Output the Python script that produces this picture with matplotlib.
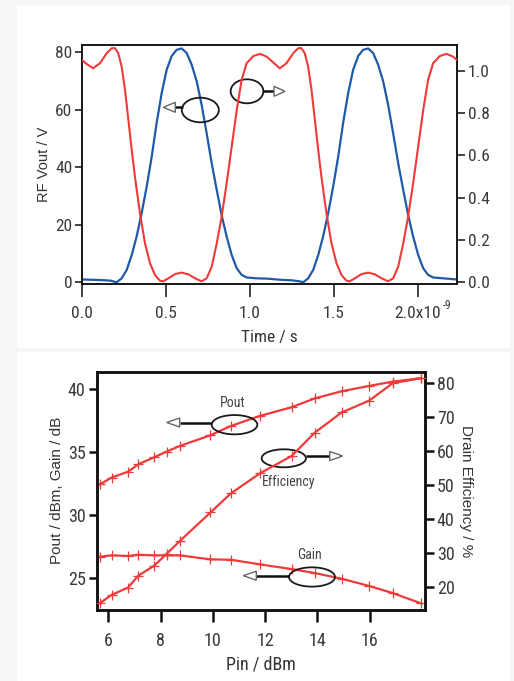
"""RF waveform and power sweep figure (two stacked panels)."""

import matplotlib
matplotlib.use("Agg")
import matplotlib.pyplot as plt
from matplotlib.patches import Ellipse, Polygon, Rectangle

RED = "#ef3a3a"
BLUE = "#1f5aa8"
NARROW = ["Roboto Condensed", "Liberation Sans", "DejaVu Sans"]
WIDE = ["Liberation Sans", "DejaVu Sans"]

# --- top panel: time-domain waveforms (time in ns) ---
vout_t = [0.000, 0.110, 0.170, 0.206, 0.236, 0.266, 0.296, 0.325, 0.355, 0.385, 0.415, 0.444,
          0.474, 0.504, 0.534, 0.563, 0.593, 0.623, 0.653, 0.683, 0.712, 0.742, 0.772, 0.802,
          0.831, 0.861, 0.891, 0.921, 0.950, 0.980, 1.040, 1.100, 1.180, 1.250, 1.300, 1.316,
          1.346, 1.376, 1.406, 1.435, 1.465, 1.495, 1.525, 1.554, 1.584, 1.614, 1.644, 1.673,
          1.703, 1.733, 1.763, 1.793, 1.822, 1.852, 1.882, 1.912, 1.941, 1.971, 2.001, 2.031,
          2.060, 2.090, 2.150, 2.232]
vout_v = [1.0, 0.8, 0.6, 0.0, 1.4, 4.3, 9.5, 15.9, 24.0, 33.3, 43.7, 55.3,
          65.7, 73.9, 78.7, 80.8, 81.3, 79.7, 75.6, 69.8, 61.7, 51.8, 41.4, 32.1,
          23.4, 15.9, 9.5, 4.9, 2.6, 1.7, 1.4, 1.3, 0.9, 0.7, 0.3, 0.0,
          1.4, 4.3, 9.5, 15.9, 24.0, 33.3, 43.7, 55.3, 65.7, 73.9, 78.7, 80.8,
          81.3, 79.7, 75.6, 69.8, 61.7, 51.8, 41.4, 32.1, 23.4, 15.9, 9.5, 4.9,
          2.6, 1.7, 1.4, 1.0]

curr_t = [0.000, 0.028, 0.067, 0.107, 0.147, 0.177, 0.196, 0.216, 0.236, 0.256, 0.276, 0.296,
          0.315, 0.345, 0.375, 0.405, 0.434, 0.464, 0.484, 0.514, 0.554, 0.593, 0.633, 0.673,
          0.712, 0.742, 0.772, 0.802, 0.831, 0.861, 0.891, 0.921, 0.950, 0.980, 1.020, 1.060,
          1.099, 1.139, 1.177, 1.217, 1.257, 1.287, 1.306, 1.326, 1.346, 1.366, 1.386, 1.406,
          1.425, 1.455, 1.485, 1.515, 1.544, 1.574, 1.594, 1.624, 1.664, 1.703, 1.743, 1.783,
          1.822, 1.852, 1.882, 1.912, 1.941, 1.971, 2.001, 2.031, 2.060, 2.090, 2.130, 2.170,
          2.209, 2.232]
curr_a = [1.050, 1.031, 1.011, 1.035, 1.082, 1.106, 1.106, 1.082, 1.019, 0.909, 0.767, 0.625,
          0.499, 0.326, 0.184, 0.090, 0.035, 0.008, 0.005, 0.019, 0.039, 0.046, 0.038, 0.019,
          0.005, 0.019, 0.074, 0.184, 0.310, 0.468, 0.641, 0.814, 0.956, 1.035, 1.069, 1.079,
          1.066, 1.038, 1.011, 1.035, 1.082, 1.106, 1.106, 1.082, 1.019, 0.909, 0.767, 0.625,
          0.499, 0.326, 0.184, 0.090, 0.035, 0.008, 0.005, 0.019, 0.039, 0.046, 0.038, 0.019,
          0.005, 0.019, 0.074, 0.184, 0.310, 0.468, 0.641, 0.814, 0.956, 1.035, 1.069, 1.079,
          1.066, 1.050]

time_ticks = [0.0, 0.5, 1.0, 1.5, 2.0]
time_labels = ["0.0", "0.5", "1.0", "1.5", "2.0x10"]
time_exponent = "-9"

# --- bottom panel: power sweep ---
pin_dbm = [5.68, 6.13, 6.76, 7.15, 7.75, 8.23, 8.74, 9.91, 10.69, 11.80,
           13.01, 13.90, 14.92, 15.98, 16.87, 17.96]
pout_dbm = [32.43, 32.97, 33.44, 34.03, 34.58, 35.04, 35.49, 36.34, 37.08, 37.88,
            38.57, 39.28, 39.84, 40.27, 40.61, 40.88]
gain_db = [26.67, 26.78, 26.73, 26.83, 26.78, 26.78, 26.78, 26.46, 26.43, 26.06,
           25.69, 25.37, 24.92, 24.34, 23.78, 22.96]
drain_eff = [15.3, 17.75, 19.9, 23.4, 26.3, 29.8, 33.6, 42.0, 47.6, 53.5,
             58.6, 65.5, 71.4, 74.9, 80.0, 81.5]


def _hollow_arrow(ax, start, tip, head_len_px, head_w_px):
    bbox = ax.get_window_extent()
    w, h = bbox.width, bbox.height
    direction = 1 if tip[0] > start[0] else -1
    base_x = tip[0] - direction * head_len_px / w
    ax.plot([start[0], base_x], [start[1], start[1]], color="#111111", lw=1.8,
            transform=ax.transAxes, solid_capstyle="butt", clip_on=False, zorder=5)
    half = head_w_px / 2 / h
    head = Polygon([[tip[0], tip[1]], [base_x, tip[1] + half], [base_x, tip[1] - half]],
                   closed=True, facecolor="white", edgecolor="#666666", lw=1.0,
                   transform=ax.transAxes, clip_on=False, zorder=6)
    ax.add_patch(head)


def _ring(ax, center, width, height):
    ax.add_patch(Ellipse(center, width, height, transform=ax.transAxes, fill=False,
                         edgecolor="#1a1a1a", lw=1.3, zorder=5, clip_on=False))


def _style_ticks(ax, spine_w, size):
    for spine in ax.spines.values():
        spine.set_linewidth(spine_w)
        spine.set_color("#111111")
    ax.tick_params(colors="#111111", labelcolor="#3a3a3a", labelsize=size, width=spine_w)
    for label in ax.get_xticklabels() + ax.get_yticklabels():
        label.set_family(NARROW)


fig = plt.figure(figsize=(5.14, 6.81), dpi=100, facecolor="#f6f6f6")
fig.patches.append(Rectangle((17 / 514, 1 - 348 / 681), 493 / 514, 343 / 681,
                             transform=fig.transFigure, facecolor="white", edgecolor="none",
                             zorder=-10))
fig.patches.append(Rectangle((17 / 514, 0), 493 / 514, 1 - 352 / 681,
                             transform=fig.transFigure, facecolor="white", edgecolor="none",
                             zorder=-10))

# top panel
ax1 = fig.add_axes([82 / 514, 1 - 283.5 / 681, 375 / 514, 238.5 / 681])
ax1.set_facecolor("none")
ax1b = ax1.twinx()
ax1.plot([t * 1e-9 for t in vout_t], vout_v, color=BLUE, lw=1.6, zorder=3)
ax1b.plot([t * 1e-9 for t in curr_t], curr_a, color=RED, lw=1.5, zorder=3)
ax1.set_xlim(0, 2.232e-9)
ax1.set_ylim(-0.4, 82.5)
ax1b.set_ylim(-0.0054, 1.121)
ax1.set_xticks([t * 1e-9 for t in time_ticks])
ax1.set_xticklabels(time_labels)
ax1.set_yticks([0, 20, 40, 60, 80])
ax1b.set_yticks([0.0, 0.2, 0.4, 0.6, 0.8, 1.0])
ax1b.set_yticklabels(["0.0", "0.2", "0.4", "0.6", "0.8", "1.0"])
ax1.tick_params(axis="x", direction="out", length=9, pad=7)
ax1.tick_params(axis="y", direction="out", length=5, pad=2)
ax1b.tick_params(axis="y", direction="out", length=6, pad=2)
_style_ticks(ax1, 1.1, 12.5)
_style_ticks(ax1b, 1.1, 12.5)
ax1.annotate(time_exponent, xy=(time_ticks[-1] * 1e-9, 0), xycoords=("data", "axes fraction"),
             xytext=(17.5, -15.5), textcoords="offset points", ha="left", va="center",
             family=NARROW, fontsize=8.5, color="#3a3a3a")
ax1.set_ylabel("RF Vout / V", family=WIDE, fontsize=10.5, color="#333333", labelpad=3)
ax1.set_xlabel("Time / s", family=NARROW, fontsize=12.5, color="#333333", labelpad=7)

_ring(ax1, (0.3155, 0.7275), 0.0987, 0.1031)
_hollow_arrow(ax1, (0.2693, 0.7388), (0.2168, 0.7388), 12, 10)
_ring(ax1, (0.44, 0.8059), 0.0872, 0.1006)
_hollow_arrow(ax1, (0.4835, 0.8059), (0.5413, 0.8059), 11, 10)

# bottom panel
ax2 = fig.add_axes([96.7 / 514, 1 - 610 / 681, 328.3 / 514, 238.3 / 681])
ax2.set_facecolor("none")
ax2b = ax2.twinx()
marker_kw = dict(marker="+", markersize=7, markeredgewidth=0.9, lw=1.6, color=RED, zorder=3)
ax2.plot(pin_dbm, pout_dbm, **marker_kw)
ax2.plot(pin_dbm, gain_db, **marker_kw)
ax2b.plot(pin_dbm, drain_eff, **marker_kw)
ax2.set_xlim(5.56, 18.11)
ax2.set_ylim(22.43, 41.4)
ax2b.set_ylim(13.3, 83.4)
ax2.set_xticks([6, 8, 10, 12, 14, 16])
ax2.set_yticks([25, 30, 35, 40])
ax2b.set_yticks([20, 30, 40, 50, 60, 70, 80])
ax2.tick_params(axis="x", direction="out", length=8.5, pad=7)
ax2.tick_params(axis="y", direction="out", length=6, pad=2)
ax2b.tick_params(axis="y", direction="out", length=6.5, pad=2)
_style_ticks(ax2, 1.8, 13)
_style_ticks(ax2b, 1.8, 13)
ax2.set_ylabel("Pout / dBm, Gain / dB", family=WIDE, fontsize=11, color="#333333", labelpad=3)
ax2b.set_ylabel("Drain Efficiency / %", family=WIDE, fontsize=11, color="#333333",
                rotation=270, labelpad=13)
ax2.set_xlabel("Pin / dBm", family=NARROW, fontsize=13, color="#333333", labelpad=4)

_ring(ax2, (0.4197, 0.7776), 0.1392, 0.081)
_hollow_arrow(ax2, (0.3503, 0.7868), (0.2132, 0.7868), 13, 9)
ax2.text(0.4152, 0.8674, "Pout", transform=ax2.transAxes, ha="center", va="center",
         family=NARROW, fontsize=10, color="#444444")
_ring(ax2, (0.5699, 0.6366), 0.1349, 0.0755)
_hollow_arrow(ax2, (0.6375, 0.6462), (0.7493, 0.6462), 13, 9)
ax2.text(0.5836, 0.5384, "Efficiency", transform=ax2.transAxes, ha="center", va="center",
         family=NARROW, fontsize=10, color="#444444")
_ring(ax2, (0.6558, 0.1385), 0.1401, 0.081)
_hollow_arrow(ax2, (0.5857, 0.1439), (0.4465, 0.1439), 13, 9)
ax2.text(0.6476, 0.2308, "Gain", transform=ax2.transAxes, ha="center", va="center",
         family=NARROW, fontsize=10, color="#444444")

fig.savefig("out.png", dpi=100, facecolor=fig.get_facecolor())
